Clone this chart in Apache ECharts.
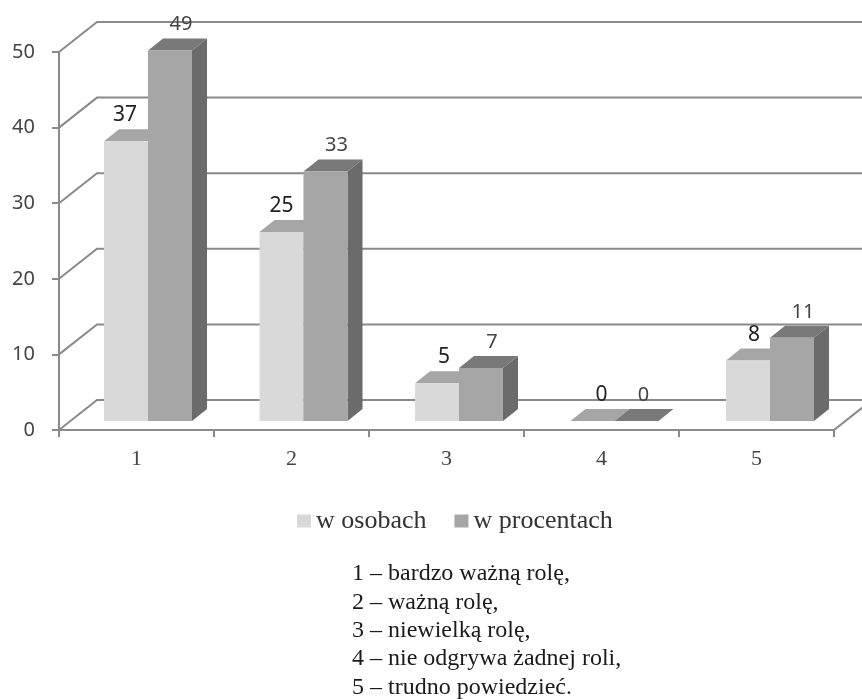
<!DOCTYPE html>
<html>
<head>
<meta charset="utf-8">
<title>Rola</title>
<script src="https://cdn.jsdelivr.net/npm/echarts@6/dist/echarts.min.js"></script>
<style>
  html, body { margin: 0; padding: 0; background: #fff; }
  #chart { width: 862px; height: 699px; }
</style>
</head>
<body>
<div id="chart"></div>
<script>
// dane
var categories = ['1', '2', '3', '4', '5'];
var osoby = [37, 25, 5, 0, 8];
var procenty = [49, 33, 7, 0, 11];
var valueTicks = [0, 10, 20, 30, 40, 50];
var roleLabels = [
  '1 – bardzo ważną rolę,',
  '2 – ważną rolę,',
  '3 – niewielką rolę,',
  '4 – nie odgrywa żadnej roli,',
  '5 – trudno powiedzieć.'
];

var chart = echarts.init(document.getElementById('chart'));

// parametry rzutu ukosnego
var wallDx = 38, wallDy = 30;
var barDx = 15, barDy = 12;
var baseDx = 11.5, baseDy = 9;
var barW = 44;
var lineColor = '#8a8a8a';

// sciany: linie siatki z tylu + skos od osi
function renderWall(params, api) {
  var cs = params.coordSys;
  var y = api.coord([0, api.value(0)])[1];
  var x0 = cs.x, x1 = cs.x + cs.width;
  var style = { stroke: lineColor, lineWidth: 2, fill: null };
  var children = [{
    type: 'polyline',
    shape: { points: [[x0, y], [x0 + wallDx, y - wallDy], [x1 + wallDx, y - wallDy]] },
    style: style
  }];
  if (api.value(0) === 0) {
    children.push({
      type: 'line',
      shape: { x1: x1, y1: y, x2: x1 + wallDx, y2: y - wallDy },
      style: style
    });
  }
  return { type: 'group', children: children };
}

function poly(points, fill) {
  return { type: 'polygon', shape: { points: points }, style: { fill: fill, stroke: null } };
}

// slupek 3d, shift: -1 lewy, 0 prawy
function makeBar(shift, front, top, side, labelFont, labelColor, nudge) {
  return function (params, api) {
    var cat = api.value(0), val = api.value(1);
    var p = api.coord([cat, val]);
    var y0 = api.coord([cat, 0])[1] - baseDy;
    // w oryginale slupki lekko uciekaja w prawo wzgledem podzialki
    var l = p[0] + baseDx + shift * barW + cat * 0.5;
    var r = l + barW;
    var t = p[1] - baseDy;
    var kids = [
      poly([[l, t], [l + barDx, t - barDy], [r + barDx, t - barDy], [r, t]], top)
    ];
    if (val > 0) {
      kids.push(poly([[r, t], [r + barDx, t - barDy], [r + barDx, y0 - barDy], [r, y0]], side));
      kids.push(poly([[l, t], [r, t], [r, y0], [l, y0]], front));
    }
    kids.push({
      type: 'text',
      style: {
        x: (l + r) / 2 + nudge[cat], y: t - 26,
        text: String(val),
        font: labelFont,
        fill: labelColor,
        align: 'center',
        verticalAlign: 'middle'
      }
    });
    return { type: 'group', children: kids };
  };
}

var option = {
  animation: false,
  backgroundColor: '#fff',
  grid: { left: 59, right: 28, top: 52, bottom: 269 },
  legend: {
    left: 292, top: 503,
    itemWidth: 14, itemHeight: 13, itemGap: 28,
    icon: 'rect',
    data: ['w osobach', 'w procentach'],
    selectedMode: false,
    textStyle: { fontFamily: 'Liberation Serif', fontSize: 26, color: '#333' }
  },
  xAxis: {
    type: 'category',
    data: categories,
    axisLine: { lineStyle: { color: lineColor, width: 2 } },
    axisTick: { show: true, length: 7, lineStyle: { color: lineColor, width: 2 } },
    axisLabel: { margin: 18, fontFamily: 'Liberation Serif', fontSize: 22, color: '#444' }
  },
  yAxis: {
    type: 'value',
    min: 0, max: 50, interval: 10,
    splitLine: { show: false },
    axisLine: { show: true, lineStyle: { color: lineColor, width: 2 } },
    axisTick: { show: true, length: 7, lineStyle: { color: lineColor, width: 2 } },
    axisLabel: { margin: 24, fontFamily: 'Noto Sans', fontSize: 20, color: '#444' }
  },
  graphic: [{
    type: 'text',
    left: 352, top: 560,
    style: {
      text: roleLabels.join('\n'),
      font: '24px "Liberation Serif"',
      lineHeight: 28.3,
      fill: '#1a1a1a'
    }
  }],
  series: [
    {
      type: 'custom',
      silent: true,
      renderItem: renderWall,
      encode: { y: 0 },
      data: valueTicks.map(function (v) { return [v]; }),
      z: 1
    },
    {
      name: 'w osobach',
      type: 'custom',
      itemStyle: { color: '#d9d9d9' },
      renderItem: makeBar(-1, '#d9d9d9', '#a6a6a6', '#a6a6a6', '21px "Noto Sans"', '#222', [-1, 0, 7, 9, 6]),
      encode: { x: 0, y: 1 },
      data: osoby.map(function (v, i) { return [i, v]; }),
      z: 2
    },
    {
      name: 'w procentach',
      type: 'custom',
      itemStyle: { color: '#a6a6a6' },
      renderItem: makeBar(0, '#a6a6a6', '#797979', '#6b6b6b', '20px "Noto Sans"', '#444', [11, 11, 11, 7, 11]),
      encode: { x: 0, y: 1 },
      data: procenty.map(function (v, i) { return [i, v]; }),
      z: 3
    }
  ]
};

chart.setOption(option);
</script>
</body>
</html>
